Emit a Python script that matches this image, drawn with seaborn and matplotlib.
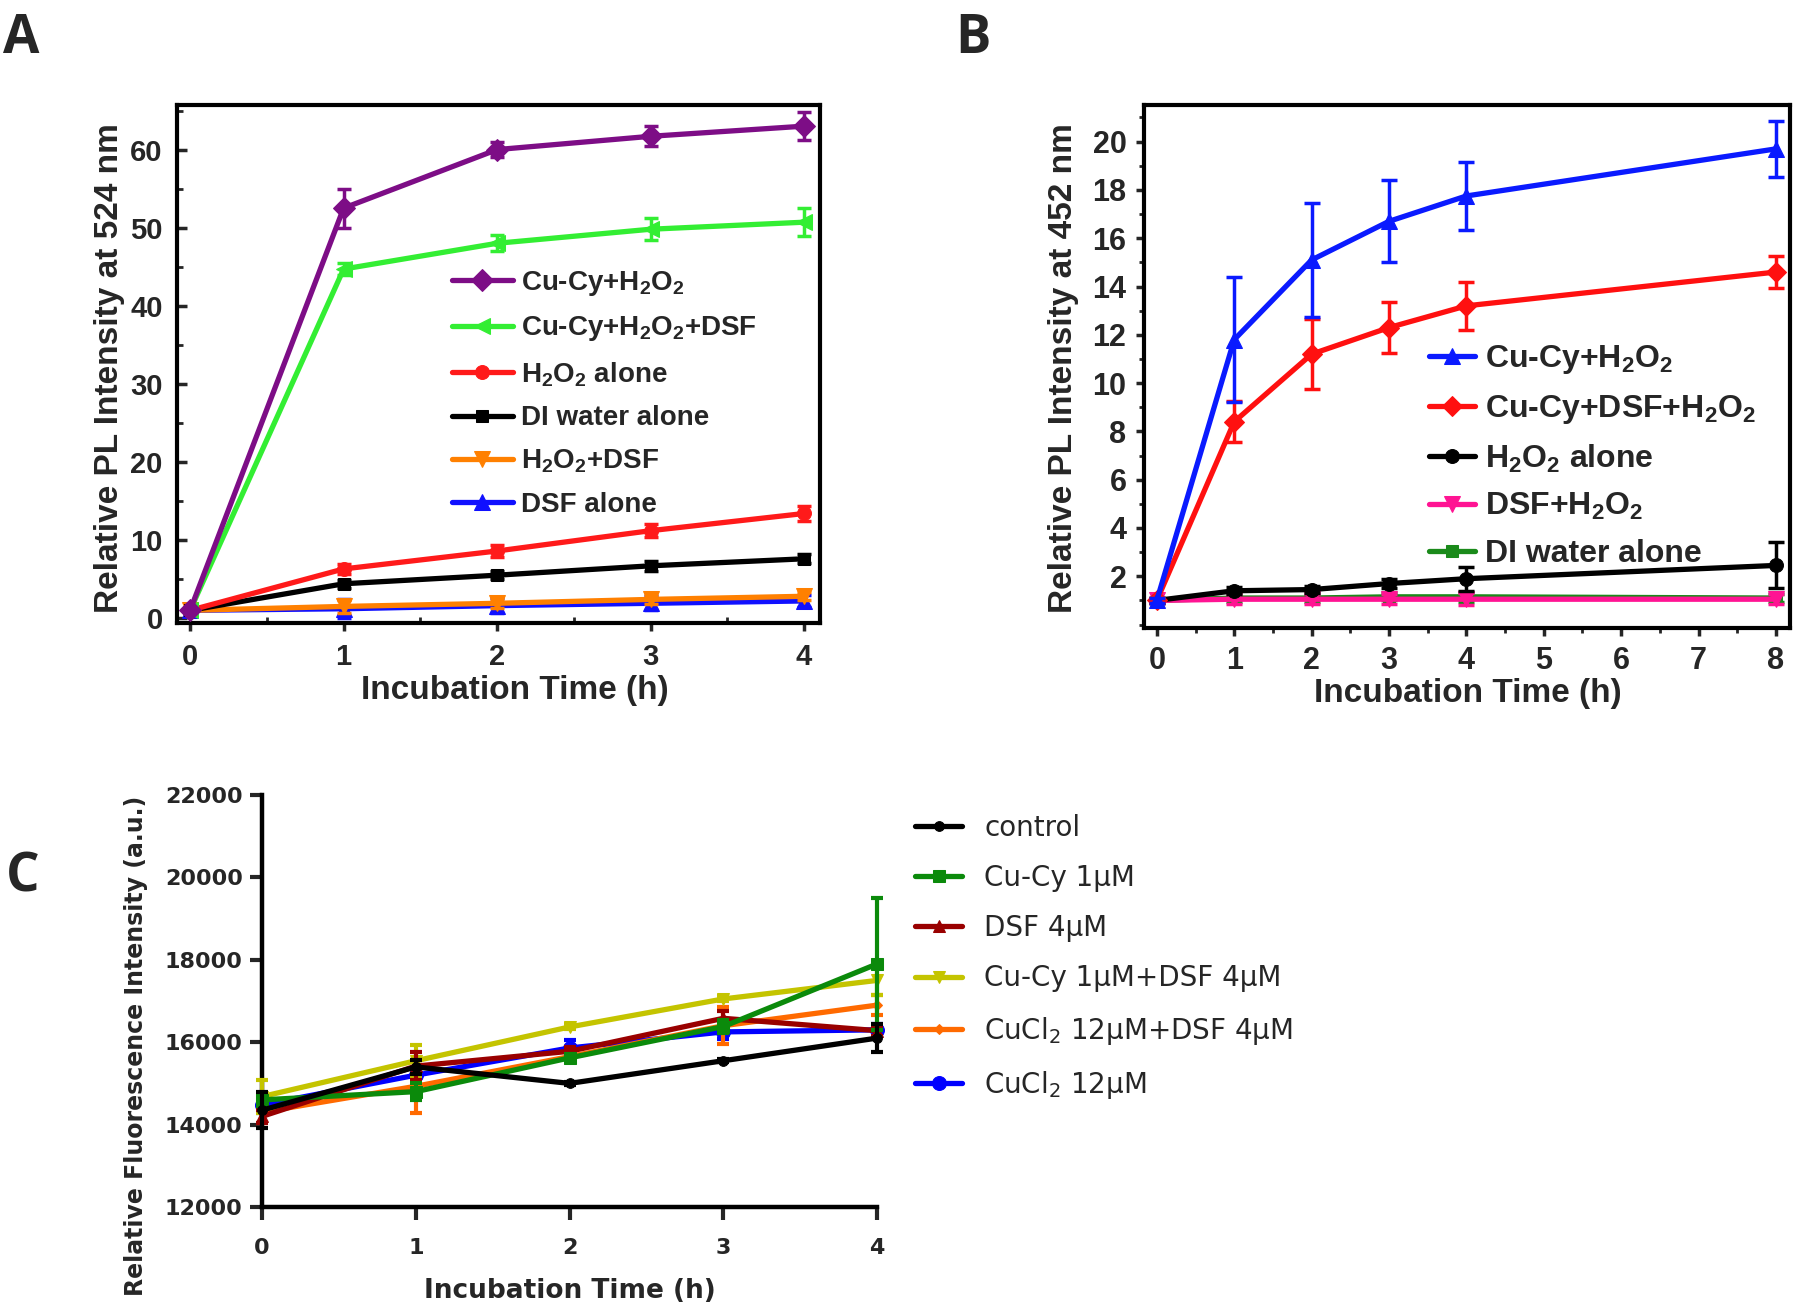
import numpy as np, matplotlib
matplotlib.use("Agg")
import matplotlib.pyplot as plt
import seaborn as sns
from matplotlib.ticker import MultipleLocator

sns.set_theme(style="white")
plt.rcParams['font.family'] = ['Liberation Sans', 'DejaVu Sans']
plt.rcParams['mathtext.default'] = 'regular'

# ── Panel A: PL intensity at 524 nm ──
t_a = [0, 1, 2, 3, 4]
a_names = ["Cu-Cy+H$_2$O$_2$", "Cu-Cy+H$_2$O$_2$+DSF", "H$_2$O$_2$ alone",
           "DI water alone", "H$_2$O$_2$+DSF", "DSF alone"]
a_cucy_h2o2 = [1.0, 52.5, 60.0, 61.7, 63.0]
a_cucy_h2o2_err = [0.3, 2.5, 1.0, 1.3, 1.8]
a_cucy_h2o2_dsf = [1.0, 44.7, 48.0, 49.8, 50.7]
a_cucy_h2o2_dsf_err = [0.3, 0.8, 1.0, 1.4, 1.8]
a_h2o2 = [1.0, 6.3, 8.6, 11.2, 13.4]
a_h2o2_err = [0.3, 0.6, 0.8, 0.8, 0.9]
a_water = [1.0, 4.4, 5.5, 6.7, 7.6]
a_water_err = [0.3, 0.5, 0.5, 0.6, 0.6]
a_h2o2_dsf = [1.0, 1.5, 1.9, 2.4, 2.8]
a_h2o2_dsf_err = [0.3, 0.8, 0.6, 0.6, 0.5]
a_dsf = [1.0, 1.2, 1.6, 1.9, 2.2]
a_dsf_err = [0.3, 1.2, 1.0, 0.9, 0.8]

# ── Panel B: PL intensity at 452 nm ──
t_b = [0, 1, 2, 3, 4, 8]
b_names = ["Cu-Cy+H$_2$O$_2$", "Cu-Cy+DSF+H$_2$O$_2$", "H$_2$O$_2$ alone",
           "DSF+H$_2$O$_2$", "DI water alone"]
b_cucy_h2o2 = [1.0, 11.8, 15.1, 16.7, 17.75, 19.7]
b_cucy_h2o2_err = [0.1, 2.6, 2.35, 1.7, 1.4, 1.15]
b_cucy_dsf_h2o2 = [1.0, 8.4, 11.2, 12.3, 13.2, 14.6]
b_cucy_dsf_h2o2_err = [0.1, 0.85, 1.45, 1.05, 1.0, 0.65]
b_h2o2 = [1.0, 1.4, 1.45, 1.7, 1.9, 2.45]
b_h2o2_err = [0.1, 0.15, 0.15, 0.2, 0.5, 0.95]
b_dsf_h2o2 = [1.0, 1.05, 1.05, 1.05, 1.05, 1.05]
b_dsf_h2o2_err = [0.1, 0.2, 0.2, 0.2, 0.25, 0.2]
b_water = [1.0, 1.1, 1.1, 1.15, 1.15, 1.1]
b_water_err = [0.1, 0.15, 0.15, 0.15, 0.2, 0.15]

# ── Panel C: relative fluorescence intensity ──
t_c = [0, 1, 2, 3, 4]
c_names = ["control", "Cu-Cy 1μM", "DSF 4μM", "Cu-Cy 1μM+DSF 4μM",
           "CuCl$_2$ 12μM+DSF 4μM", "CuCl$_2$ 12μM"]
c_control = [14350, 15400, 15000, 15550, 16100]
c_control_err = [430, 170, 40, 40, 350]
c_cucy = [14600, 14800, 15620, 16380, 17900]
c_cucy_err = [150, 200, 100, 150, 1600]
c_dsf = [14200, 15420, 15780, 16580, 16280]
c_dsf_err = [150, 330, 100, 170, 120]
c_cucy_dsf = [14680, 15550, 16370, 17050, 17500]
c_cucy_dsf_err = [400, 380, 60, 60, 350]
c_cucl2_dsf = [14300, 14930, 15650, 16400, 16900]
c_cucl2_dsf_err = [250, 650, 100, 450, 250]
c_cucl2 = [14480, 15200, 15860, 16250, 16300]
c_cucl2_err = [200, 200, 200, 180, 150]

fig = plt.figure(figsize=(18, 13.05), dpi=100)
fig.patch.set_facecolor("white")
axA = fig.add_axes([0.0982, 0.5225, 0.3574, 0.3970])
axB = fig.add_axes([0.6358, 0.5188, 0.3586, 0.4008])
axC = fig.add_axes([0.1456, 0.0751, 0.3417, 0.3157])


def draw(ax, t, y, err, color, marker, ms, label, lw, elw, cap, z):
    sns.lineplot(x=t, y=y, ax=ax, color=color, marker=marker, markersize=ms,
                 markeredgecolor=color, linewidth=lw, label=label, zorder=z,
                 clip_on=False)
    eb = ax.errorbar(t, y, yerr=err, fmt="none", ecolor=color, elinewidth=elw,
                     capsize=cap, capthick=elw, zorder=z)
    for art in list(eb.lines[1]) + list(eb.lines[2]):
        art.set_clip_on(False)


# Panel A
a_series = [(a_cucy_h2o2, a_cucy_h2o2_err, "#7d0d86", "D", 11),
            (a_cucy_h2o2_dsf, a_cucy_h2o2_dsf_err, "#33ee33", "<", 12),
            (a_h2o2, a_h2o2_err, "#ff1a1a", "o", 10),
            (a_water, a_water_err, "black", "s", 9),
            (a_h2o2_dsf, a_h2o2_dsf_err, "#ff8000", "v", 12),
            (a_dsf, a_dsf_err, "#1010ff", "^", 11)]
zs = [8, 7, 6, 5, 4, 3]
for (y, e, c, m, ms), name, z in zip(a_series, a_names, zs):
    draw(axA, t_a, y, e, c, m, ms, name, 3.8, 2.5, 5, z)
axA.set_xlim(-0.087, 4.104)
axA.set_ylim(-0.64, 65.7)
axA.yaxis.set_major_locator(MultipleLocator(10))
axA.yaxis.set_minor_locator(MultipleLocator(5))
axA.xaxis.set_major_locator(MultipleLocator(1))
axA.xaxis.set_minor_locator(MultipleLocator(0.5))
axA.tick_params(axis="y", which="major", direction="in", length=7, width=2.5,
                labelsize=21, pad=10, left=True)
axA.tick_params(axis="y", which="minor", direction="in", length=4, width=2, left=True)
axA.tick_params(axis="x", which="major", direction="out", length=6, width=2.5,
                labelsize=21, pad=8, bottom=True)
axA.tick_params(axis="x", which="minor", direction="in", length=4, width=2, bottom=True)
for lab in axA.get_xticklabels() + axA.get_yticklabels():
    lab.set_fontweight("bold")
for sp in axA.spines.values():
    sp.set_linewidth(3); sp.set_color("black")
axA.set_ylabel("Relative PL Intensity at 524 nm", fontsize=24, fontweight="bold", va="center")
axA.yaxis.set_label_coords(-0.105, 0.493)
axA.set_xlabel("Incubation Time (h)", fontsize=24, fontweight="bold", va="center")
axA.xaxis.set_label_coords(0.526, -0.13)
axA.legend(loc="upper left", bbox_to_anchor=(0.251, 0.794), bbox_transform=fig.transFigure,
           frameon=False, prop={"weight": "bold", "size": 20},
           handlelength=2.2, handletextpad=0.3, labelspacing=0.6,
           borderpad=0, borderaxespad=0, numpoints=1)

# Panel B
b_series = [(b_cucy_h2o2, b_cucy_h2o2_err, "#0a1aff", "^", 12),
            (b_cucy_dsf_h2o2, b_cucy_dsf_h2o2_err, "#ff1010", "D", 10),
            (b_h2o2, b_h2o2_err, "black", "o", 10),
            (b_dsf_h2o2, b_dsf_h2o2_err, "#ff1493", "v", 11),
            (b_water, b_water_err, "#1a8a1a", "s", 9)]
zs = [8, 7, 6, 5, 4]
for (y, e, c, m, ms), name, z in zip(b_series, b_names, zs):
    draw(axB, t_b, y, e, c, m, ms, name, 3.8, 2.5, 6, z)
axB.set_xlim(-0.16, 8.18)
axB.set_ylim(-0.14, 21.52)
axB.set_yticks(np.arange(2, 21, 2))
axB.yaxis.set_minor_locator(MultipleLocator(1))
axB.xaxis.set_major_locator(MultipleLocator(1))
axB.xaxis.set_minor_locator(MultipleLocator(0.5))
axB.tick_params(axis="both", which="major", direction="out", length=6, width=2.5,
                labelsize=22, pad=7, left=True, bottom=True)
axB.tick_params(axis="both", which="minor", direction="out", length=3.5, width=2,
                left=True, bottom=True)
for lab in axB.get_xticklabels() + axB.get_yticklabels():
    lab.set_fontweight("bold")
for sp in axB.spines.values():
    sp.set_linewidth(3); sp.set_color("black")
axB.set_ylabel("Relative PL Intensity at 452 nm", fontsize=24, fontweight="bold", va="center")
axB.yaxis.set_label_coords(-0.125, 0.497)
axB.set_xlabel("Incubation Time (h)", fontsize=24, fontweight="bold", va="center")
axB.xaxis.set_label_coords(0.501, -0.125)
axB.legend(loc="upper left", bbox_to_anchor=(0.7939, 0.737), bbox_transform=fig.transFigure,
           frameon=False, prop={"weight": "bold", "size": 23},
           handlelength=1.45, handletextpad=0.3, labelspacing=0.52,
           borderpad=0, borderaxespad=0, numpoints=1)

# Panel C
c_series = [(c_control, c_control_err, "black", "o", 7),
            (c_cucy, c_cucy_err, "#0b8a0b", "s", 8),
            (c_dsf, c_dsf_err, "#990000", "^", 8),
            (c_cucy_dsf, c_cucy_dsf_err, "#c4c400", "v", 8),
            (c_cucl2_dsf, c_cucl2_dsf_err, "#ff6a00", "D", 5),
            (c_cucl2, c_cucl2_err, "#0000ff", "o", 10)]
zs = [9, 8, 7, 6, 5, 4]
for (y, e, c, m, ms), name, z in zip(c_series, c_names, zs):
    draw(axC, t_c, y, e, c, m, ms, name, 3.8, 3, 4, z)
axC.set_xlim(0, 4)
axC.set_ylim(12000, 22000)
axC.set_yticks(np.arange(12000, 22001, 2000))
axC.set_xticks(t_c)
sns.despine(ax=axC)
for sp in ["left", "bottom"]:
    axC.spines[sp].set_linewidth(3.2); axC.spines[sp].set_color("black")
axC.tick_params(axis="both", direction="out", length=9, width=3, labelsize=16,
                left=True, bottom=True)
axC.tick_params(axis="y", pad=5)
axC.tick_params(axis="x", pad=13)
c_font = ["DejaVu Sans"]
for lab in axC.get_xticklabels() + axC.get_yticklabels():
    lab.set_fontweight("bold"); lab.set_family(c_font)
axC.set_ylabel("Relative Fluorescence Intensity (a.u.)", fontsize=17, fontweight="bold",
               family=c_font, va="center")
axC.yaxis.set_label_coords(-0.205, 0.39)
axC.set_xlabel("Incubation Time (h)", fontsize=19, fontweight="bold", family=c_font, va="center")
axC.xaxis.set_label_coords(0.5, -0.204)
axC.legend(loc="upper left", bbox_to_anchor=(0.5083, 0.3765), bbox_transform=fig.transFigure,
           frameon=False, prop={"size": 20, "family": c_font},
           handlelength=1.7, handletextpad=0.8, labelspacing=0.8,
           borderpad=0, borderaxespad=0, numpoints=1)

# panel letters
for letter, x, y in [("A", 3, 12), ("B", 955, 12), ("C", 6, 850)]:
    fig.text(x / 1800, 1 - y / 1305, letter, fontsize=38, fontweight="bold",
             family=["Open Sans", "DejaVu Sans"], ha="left", va="top")

fig.savefig("out.png", dpi=100, facecolor="white")
